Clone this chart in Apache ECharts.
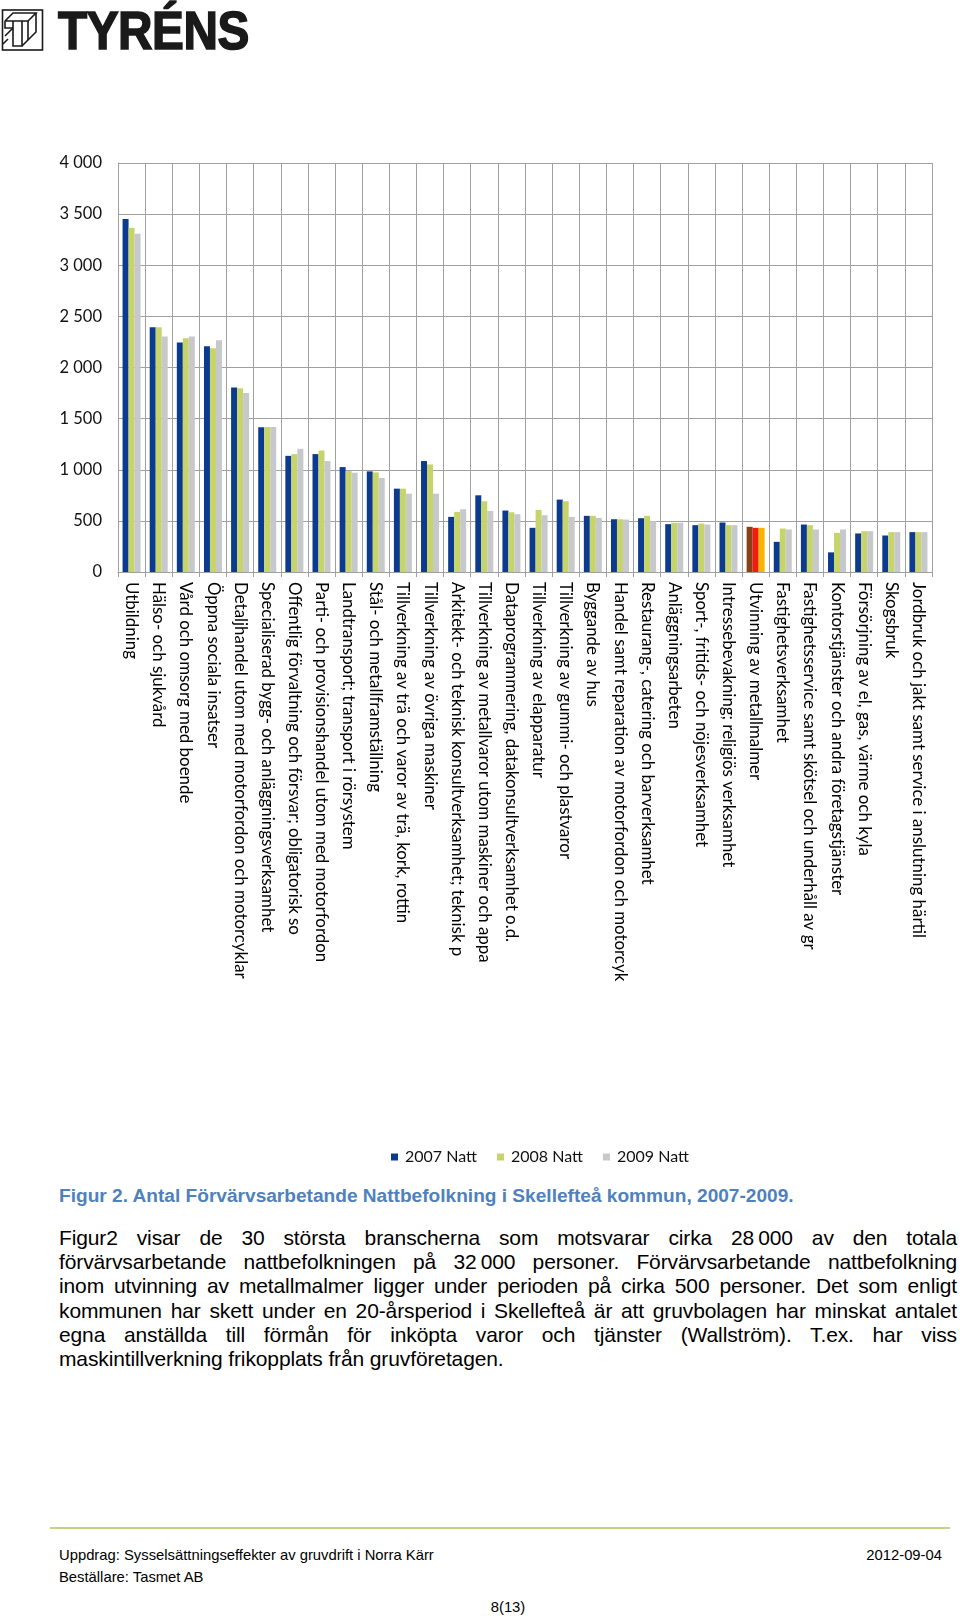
<!DOCTYPE html>
<html>
<head>
<meta charset="utf-8">
<script src="https://cdn.jsdelivr.net/npm/echarts@6/dist/echarts.min.js"></script>
<style>
  html, body { margin:0; padding:0; background:#fff; }
  #page { position:relative; width:960px; height:1619px; overflow:hidden; }
  #chart { position:absolute; left:0; top:0; width:960px; height:1185px; }
  .abs { position:absolute; }
  #logoText { left:58px; top:4px; font-family:"Liberation Sans", Arial, sans-serif; font-weight:bold; font-size:53px; line-height:53px; color:#1a1a1a; transform:scaleX(0.9); transform-origin:left top; letter-spacing:-0.5px; -webkit-text-stroke:1.6px #1a1a1a; }
  #caption { left:59px; top:1185px; font-family:"Liberation Sans", Arial, sans-serif; font-weight:bold; font-size:19.1px; line-height:22px; color:#4f81bd; white-space:nowrap; }
  #para { left:59px; top:1226px; width:898px; font-family:"Liberation Sans", Arial, sans-serif; font-size:21px; letter-spacing:-0.12px; line-height:24.2px; color:#000; }
  #para div { text-align:justify; text-align-last:justify; }
  #para div.last { text-align:left; text-align-last:left; }
  #rule { left:50px; top:1527px; width:900px; height:2px; background:#c4d37f; }
  .foot { font-family:"Liberation Sans", Arial, sans-serif; font-size:14.8px; line-height:18px; color:#000; white-space:nowrap; }
</style>
</head>
<body>
<div id="page">
  <div id="chart"></div>
  <svg class="abs" style="left:0;top:0" width="50" height="56" viewBox="0 0 50 56">
    <g fill="none" stroke="#1a1a1a" stroke-width="1.6" stroke-linejoin="miter">
      <rect x="2.5" y="10" width="40" height="40"/>
      <polyline points="5,21 13,13 36,13 28,21 5,21"/>
      <polyline points="5,21 5,28 13,28"/>
      <polyline points="13,21 13,46 22,46 22,21"/>
      <polyline points="22,46 36,32 36,13"/>
      <polyline points="28,21 28,40"/>
      <polyline points="5,36 13,28"/>
      <polyline points="3,44 8,39"/>
    </g>
  </svg>
  <div id="logoText" class="abs">TYRÉNS</div>
  <div id="caption" class="abs">Figur 2. Antal Förvärvsarbetande Nattbefolkning i Skellefteå kommun, 2007-2009.</div>
  <div id="para" class="abs">
    <div>Figur2 visar de 30 största branscherna som motsvarar cirka 28&#8201;000 av den totala</div>
    <div>förvärvsarbetande nattbefolkningen på 32&#8201;000 personer. Förvärvsarbetande nattbefolkning</div>
    <div>inom utvinning av metallmalmer ligger under perioden på cirka 500 personer. Det som enligt</div>
    <div>kommunen har skett under en 20-årsperiod i Skellefteå är att gruvbolagen har minskat antalet</div>
    <div>egna anställda till förmån för inköpta varor och tjänster (Wallström). T.ex. har viss</div>
    <div class="last">maskintillverkning frikopplats från gruvföretagen.</div>
  </div>
  <div id="rule" class="abs"></div>
  <div class="abs foot" style="left:59px;top:1546px;">Uppdrag: Sysselsättningseffekter av gruvdrift i Norra Kärr</div>
  <div class="abs foot" style="right:18px;top:1546px;">2012-09-04</div>
  <div class="abs foot" style="left:59px;top:1568px;">Beställare: Tasmet AB</div>
  <div class="abs foot" style="left:478px;width:60px;text-align:center;top:1598px;">8(13)</div>
</div>
<script>
const categories = [
  "Utbildning",
  "Hälso- och sjukvård",
  "Vård och omsorg med boende",
  "Öppna sociala insatser",
  "Detaljhandel utom med motorfordon och motorcyklar",
  "Specialiserad bygg- och anläggningsverksamhet",
  "Offentlig förvaltning och försvar; obligatorisk so",
  "Parti- och provisionshandel utom med motorfordon",
  "Landtransport; transport i rörsystem",
  "Stål- och metallframställning",
  "Tillverkning av trä och varor av trä, kork, rottin",
  "Tillverkning av övriga maskiner",
  "Arkitekt- och teknisk konsultverksamhet; teknisk p",
  "Tillverkning av metallvaror utom maskiner och appa",
  "Dataprogrammering, datakonsultverksamhet o.d.",
  "Tillverkning av elapparatur",
  "Tillverkning av gummi- och plastvaror",
  "Byggande av hus",
  "Handel samt reparation av motorfordon och motorcyk",
  "Restaurang-, catering och barverksamhet",
  "Anläggningsarbeten",
  "Sport-, fritids- och nöjesverksamhet",
  "Intressebevakning; religiös verksamhet",
  "Utvinning av metallmalmer",
  "Fastighetsverksamhet",
  "Fastighetsservice samt skötsel och underhåll av gr",
  "Kontorstjänster och andra företagstjänster",
  "Försörjning av el, gas, värme och kyla",
  "Skogsbruk",
  "Jordbruk och jakt samt service i anslutning härtil"
];
const natt2007 = [3452, 2393, 2244, 2208, 1805, 1416, 1136, 1153, 1026, 984, 815, 1085, 539, 750, 601, 432, 708, 549, 516, 526, 468, 458, 484, 442, 295, 464, 192, 377, 357, 390];
const natt2008 = [3367, 2393, 2286, 2188, 1796, 1419, 1153, 1188, 987, 974, 815, 1052, 588, 692, 584, 607, 692, 549, 516, 549, 481, 474, 458, 432, 425, 458, 383, 399, 390, 390];
const natt2009 = [3309, 2302, 2302, 2266, 1750, 1419, 1205, 1085, 971, 919, 766, 766, 614, 597, 565, 555, 539, 529, 513, 497, 481, 464, 458, 432, 416, 416, 416, 399, 390, 390];
const seriesNames = ["2007 Natt", "2008 Natt", "2009 Natt"];
const yTicks = { min: 0, max: 4000, step: 500 };
const highlightCategory = "Utvinning av metallmalmer";

const baseColors = ["#0b3a8f", "#c6d46a", "#c6c8cb"];
const highlightColors = ["#8b3f14", "#f21b10", "#f7b500"];
const hIdx = categories.indexOf(highlightCategory);

function withHighlight(arr, k) {
  return arr.map((v, i) => i === hIdx ? { value: v, itemStyle: { color: highlightColors[k] } } : v);
}
function fmt(v) {
  if (v >= 1000) { return Math.floor(v / 1000) + " " + String(v % 1000).padStart(3, "0"); }
  return String(v);
}
const gridColor = "#a0a0a0";
const chart = echarts.init(document.getElementById("chart"), null, { renderer: "canvas" });
chart.setOption({
  animation: false,
  backgroundColor: "transparent",
  textStyle: { fontFamily: "Lato" },
  grid: { left: 118, top: 163, width: 814, height: 409, containLabel: false },
  legend: {
    data: seriesNames,
    left: 386, top: 1144,
    icon: "rect", itemWidth: 7, itemHeight: 7, itemGap: 20,
    textStyle: { fontFamily: "Lato", fontSize: 16, color: "#111", padding: [0, 0, 0, 2] }
  },
  xAxis: {
    type: "category",
    data: categories,
    axisLine: { show: true, lineStyle: { color: gridColor, width: 1 } },
    axisTick: { show: true, interval: 0, length: 5, lineStyle: { color: gridColor } },
    axisLabel: { interval: 0, rotate: -90, margin: 10, fontFamily: "Lato", fontSize: 16.9, color: "#000" },
    splitLine: { show: true, interval: 0, lineStyle: { color: gridColor, width: 1 } }
  },
  yAxis: {
    type: "value",
    min: yTicks.min, max: yTicks.max, interval: yTicks.step,
    axisLine: { show: true, lineStyle: { color: gridColor } },
    axisTick: { show: false },
    axisLabel: { formatter: fmt, margin: 16, fontFamily: "Lato", fontSize: 16.5, color: "#111" },
    splitLine: { show: true, lineStyle: { color: gridColor, width: 1 } }
  },
  series: [natt2007, natt2008, natt2009].map((arr, k) => ({
    name: seriesNames[k],
    type: "bar",
    barWidth: 6,
    barGap: "0%",
    itemStyle: { color: baseColors[k] },
    data: withHighlight(arr, k)
  }))
});
</script>
</body>
</html>
